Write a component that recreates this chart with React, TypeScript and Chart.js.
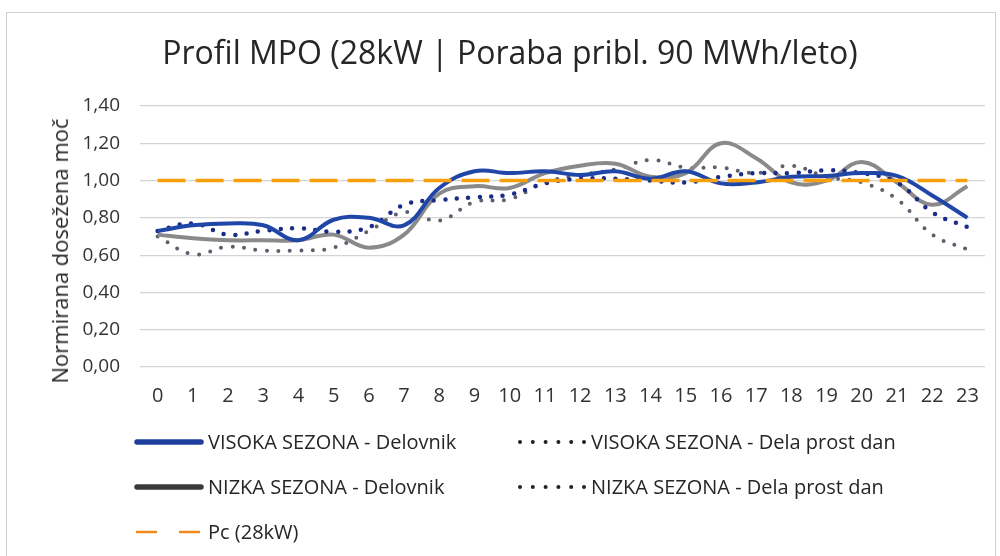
import React, { useEffect, useRef } from "react";
import { Chart, registerables } from "chart.js";

Chart.register(...registerables);

const hours = ["0","1","2","3","4","5","6","7","8","9","10","11","12","13","14","15","16","17","18","19","20","21","22","23"];
const visokaDelovnik = [0.73, 0.76, 0.77, 0.76, 0.68, 0.79, 0.80, 0.76, 0.96, 1.05, 1.04, 1.05, 1.03, 1.05, 1.01, 1.05, 0.985, 0.99, 1.02, 1.025, 1.04, 1.025, 0.92, 0.80];
const nizkaDelovnik = [0.71, 0.69, 0.68, 0.68, 0.68, 0.71, 0.64, 0.71, 0.93, 0.97, 0.96, 1.04, 1.08, 1.09, 1.02, 1.04, 1.20, 1.12, 0.99, 1.00, 1.10, 0.99, 0.87, 0.97];
const visokaProst = [0.73, 0.77, 0.71, 0.73, 0.745, 0.725, 0.75, 0.87, 0.895, 0.91, 0.925, 0.985, 1.01, 1.01, 1.00, 0.99, 1.02, 1.04, 1.04, 1.055, 1.04, 0.99, 0.83, 0.75];
const nizkaProst = [0.70, 0.605, 0.645, 0.625, 0.625, 0.64, 0.73, 0.83, 0.785, 0.885, 0.90, 0.99, 1.03, 1.06, 1.11, 1.07, 1.07, 1.04, 1.08, 1.02, 0.99, 0.90, 0.71, 0.63];
const pc = [1, 1, 1, 1, 1, 1, 1, 1, 1, 1, 1, 1, 1, 1, 1, 1, 1, 1, 1, 1, 1, 1, 1, 1];

const yTicks = [0, 0.2, 0.4, 0.6, 0.8, 1.0, 1.2, 1.4];

const title = "Profil MPO (28kW | Poraba pribl. 90 MWh/leto)";
const yTitle = "Normirana dosežena moč";
const labels = {
  vd: "VISOKA SEZONA - Delovnik",
  vp: "VISOKA SEZONA - Dela prost dan",
  nd: "NIZKA SEZONA - Delovnik",
  np: "NIZKA SEZONA - Dela prost dan",
  pc: "Pc (28kW)",
};

const FONT = "'Open Sans', sans-serif";
const BLUE = "#2046a8";
const GRAY = "#8a8a8a";
const BLUE_DOT = "#1b2c86";
const GRAY_DOT = "#5c606c";
const ORANGE = "#f5a00c";

function ChartCanvas() {
  const ref = useRef<HTMLCanvasElement | null>(null);
  useEffect(() => {
    if (!ref.current) return;
    const chart = new Chart(ref.current, {
      type: "line",
      data: {
        labels: hours,
        datasets: [
          { label: labels.pc, data: pc, borderColor: ORANGE, borderWidth: 3.5, borderDash: [28, 10], pointRadius: 0, tension: 0, order: 0 },
          { label: labels.vd, data: visokaDelovnik, borderColor: BLUE, borderWidth: 4, pointRadius: 0, tension: 0.4, order: 1 },
          { label: labels.vp, data: visokaProst, borderColor: BLUE_DOT, borderWidth: 4.5, borderDash: [0, 11.5], borderCapStyle: "round", pointRadius: 0, tension: 0.4, order: 2 },
          { label: labels.nd, data: nizkaDelovnik, borderColor: GRAY, borderWidth: 4, pointRadius: 0, tension: 0.4, order: 3 },
          { label: labels.np, data: nizkaProst, borderColor: GRAY_DOT, borderWidth: 4, borderDash: [0, 11.5], borderCapStyle: "round", pointRadius: 0, tension: 0.4, order: 4 },
        ],
      },
      options: {
        animation: false,
        responsive: false,
        maintainAspectRatio: false,
        layout: { padding: { left: 40, top: 106, right: 15, bottom: 149 } },
        plugins: { legend: { display: false }, title: { display: false }, tooltip: { enabled: false } },
        scales: {
          x: {
            type: "category",
            offset: true,
            grid: { display: false, drawTicks: false },
            border: { display: false },
            ticks: { color: "#333", font: { family: FONT, size: 20 }, padding: 17, maxRotation: 0, autoSkip: false },
            afterFit: (s: any) => { s.height = 40; },
          },
          y: {
            min: 0,
            max: 1.4,
            afterBuildTicks: (s: any) => { s.ticks = yTicks.map((v) => ({ value: v })); },
            grid: { color: "#d4d4d4", lineWidth: 1.2, drawTicks: false },
            border: { display: false },
            ticks: {
              color: "#333",
              font: { family: FONT, size: 19 },
              padding: 20,
              callback: (v: any) => Number(v).toFixed(2).replace(".", ","),
            },
            afterFit: (s: any) => { s.width = 100; },
          },
        },
      },
    });
    return () => chart.destroy();
  }, []);
  return <canvas ref={ref} width={1000} height={556} style={{ position: "absolute", left: 0, top: 0, width: 1000, height: 556 }} />;
}

function Sample({ kind }: { kind: string }) {
  const w = 72;
  if (kind === "vd") return <svg width={w} height={10}><line x1={4} y1={5} x2={w - 4} y2={5} stroke="#1f3f9f" strokeWidth={5.5} strokeLinecap="round" /></svg>;
  if (kind === "nd") return <svg width={w} height={10}><line x1={4} y1={5} x2={w - 4} y2={5} stroke="#3a3a3a" strokeWidth={5.5} strokeLinecap="round" /></svg>;
  if (kind === "pc") return <svg width={w} height={10}><line x1={3} y1={5} x2={w - 3} y2={5} stroke="#f08a1c" strokeWidth={2.5} strokeDasharray="21 22" /></svg>;
  return <svg width={w} height={10}><line x1={4} y1={5} x2={w} y2={5} stroke="#222" strokeWidth={4} strokeDasharray="0 12.8" strokeLinecap="round" /></svg>;
}

function LegendItem({ kind, text, left, top }: { kind: string; text: string; left: number; top: number }) {
  return (
    <div style={{ position: "absolute", left, top, display: "flex", alignItems: "center", whiteSpace: "nowrap", fontFamily: FONT, fontSize: 20, color: "#262626" }}>
      <Sample kind={kind} />
      <span style={{ marginLeft: 3 }}>{text}</span>
    </div>
  );
}

export default function App() {
  return (
    <div style={{ position: "absolute", left: 0, top: 0, width: 1000, height: 556, background: "#fff", overflow: "hidden" }}>
      <div style={{ position: "absolute", left: 6, top: 12, width: 990, height: 560, border: "1.5px solid #d0d0d0", boxSizing: "border-box" }} />
      <ChartCanvas />
      <div style={{ position: "absolute", left: 0, top: 30, width: 1020, textAlign: "center", fontFamily: FONT, fontSize: 32, color: "#262626", whiteSpace: "nowrap" }}>{title}</div>
      <div style={{ position: "absolute", left: 59, top: 251, width: 0, height: 0 }}>
        <div style={{ position: "absolute", left: 0, top: 0, transform: "translate(-50%, -50%) rotate(-90deg)", whiteSpace: "nowrap", fontFamily: FONT, fontSize: 22, color: "#262626", lineHeight: "28px" }}>{yTitle}</div>
      </div>
      <LegendItem kind="vd" text={labels.vd} left={133} top={428} />
      <LegendItem kind="vp" text={labels.vp} left={516} top={428} />
      <LegendItem kind="nd" text={labels.nd} left={133} top={473} />
      <LegendItem kind="np" text={labels.np} left={516} top={473} />
      <LegendItem kind="pc" text={labels.pc} left={133} top={518} />
    </div>
  );
}
